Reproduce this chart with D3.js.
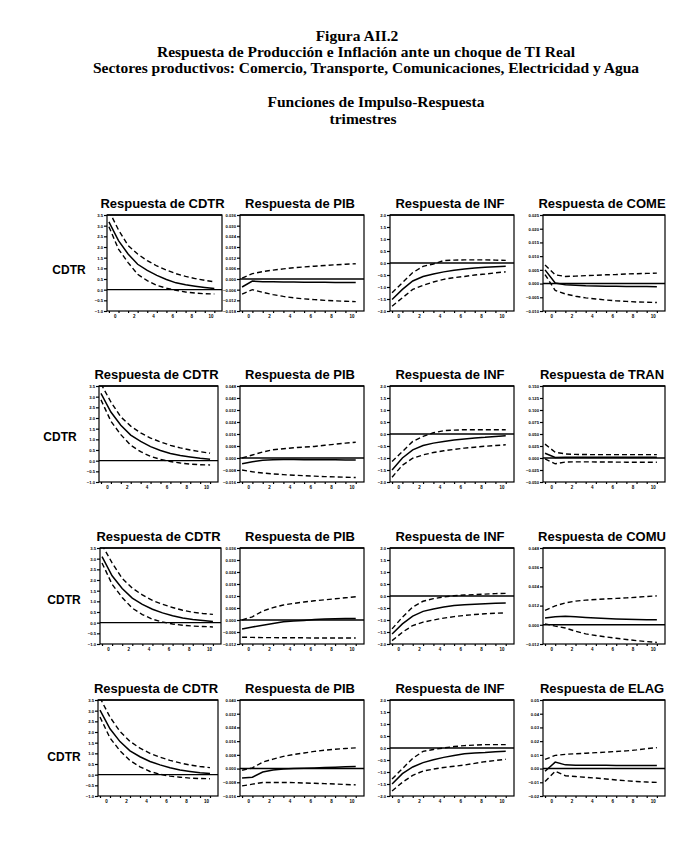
<!DOCTYPE html>
<html><head><meta charset="utf-8">
<script src="https://cdn.jsdelivr.net/npm/d3@7"></script>
<style>body{margin:0;background:#fff}svg{display:block}</style>
</head><body>
<script>
// ---------- DATA ----------
const titleLines = ["Figura AII.2","Respuesta de Producción e Inflación ante un choque  de TI Real","Sectores productivos: Comercio, Transporte, Comunicaciones, Electricidad y Agua"];
const subtitleLines = ["Funciones de Impulso-Respuesta","trimestres"];
const rowShock = ["CDTR","CDTR","CDTR","CDTR"];
const responseVars = [["CDTR","PIB","INF","COME"],["CDTR","PIB","INF","TRAN"],["CDTR","PIB","INF","COMU"],["CDTR","PIB","INF","ELAG"]];
const periods = [1,2,3,4,5,6,7,8,9,10,11,12];
const xLabelPos = [1.6,3.6,5.6,7.6,9.6,11.6];
const xLabelText = ["0","2","4","6","8","10"];

// y tick values per variable/row
const ticksCDTR = [-1.0,-0.5,0.0,0.5,1.0,1.5,2.0,2.5,3.0,3.5];
const ticksINF = [-2.0,-1.5,-1.0,-0.5,0.0,0.5,1.0,1.5,2.0];
const ticksPIB1 = [-0.018,-0.012,-0.006,0.000,0.006,0.012,0.018,0.024,0.030,0.036];
const ticksPIB2 = [-0.016,-0.008,0.000,0.008,0.016,0.024,0.032,0.040,0.048];
const ticksPIB3 = [-0.012,-0.006,0.000,0.006,0.012,0.018,0.024,0.030,0.036];
const ticksPIB4 = [-0.016,-0.008,0.000,0.008,0.016,0.024,0.032,0.040];
const ticksCOME = [-0.010,-0.005,0.000,0.005,0.010,0.015,0.020,0.025];
const ticksTRAN = [-0.050,-0.025,0.000,0.025,0.050,0.075,0.100,0.125,0.150];
const ticksCOMU = [-0.012,0.000,0.012,0.024,0.036,0.048];
const ticksELAG = [-0.02,-0.01,0.00,0.01,0.02,0.03,0.04,0.05];

// Row 1
const r1CDTR = [3.18,2.30,1.67,1.19,0.90,0.67,0.48,0.32,0.23,0.16,0.10,0.05];
const r1CDTRup = [3.70,2.80,2.07,1.67,1.36,1.11,0.92,0.75,0.62,0.52,0.44,0.37];
const r1CDTRlo = [2.95,1.90,1.27,0.72,0.42,0.20,0.07,-0.03,-0.11,-0.16,-0.19,-0.20];
const r1PIB = [-0.0045,-0.0012,-0.0015,-0.0016,-0.0017,-0.0017,-0.0018,-0.0018,-0.0018,-0.0019,-0.0019,-0.0019];
const r1PIBup = [0.0005,0.0030,0.0042,0.0050,0.0057,0.0063,0.0068,0.0072,0.0076,0.0080,0.0083,0.0086];
const r1PIBlo = [-0.0085,-0.0060,-0.0075,-0.0088,-0.0098,-0.0106,-0.0112,-0.0116,-0.0120,-0.0123,-0.0125,-0.0127];
const r1INF = [-1.52,-1.10,-0.75,-0.56,-0.46,-0.37,-0.30,-0.25,-0.21,-0.18,-0.16,-0.14];
const r1INFup = [-1.24,-0.82,-0.40,-0.14,-0.04,0.10,0.12,0.13,0.13,0.13,0.12,0.11];
const r1INFlo = [-1.80,-1.45,-1.10,-0.93,-0.79,-0.68,-0.61,-0.56,-0.50,-0.46,-0.41,-0.37];
const r1COME = [0.0050,0.0002,-0.0004,-0.0006,-0.0008,-0.0009,-0.0010,-0.0010,-0.0011,-0.0011,-0.0011,-0.0012];
const r1COMEup = [0.0068,0.0032,0.0026,0.0027,0.0029,0.0030,0.0032,0.0033,0.0035,0.0036,0.0037,0.0038];
const r1COMElo = [0.0033,-0.0025,-0.0038,-0.0046,-0.0052,-0.0056,-0.0060,-0.0063,-0.0065,-0.0067,-0.0068,-0.0069];

// Row 2
const r2CDTR = [3.15,2.28,1.66,1.20,0.90,0.66,0.48,0.34,0.24,0.17,0.11,0.07];
const r2CDTRup = [3.60,2.75,2.05,1.62,1.30,1.06,0.88,0.72,0.60,0.50,0.42,0.35];
const r2CDTRlo = [2.85,1.85,1.22,0.72,0.42,0.20,0.06,-0.04,-0.11,-0.16,-0.19,-0.20];
const r2PIB = [-0.0038,-0.0025,-0.0015,-0.0012,-0.0010,-0.0010,-0.0011,-0.0011,-0.0012,-0.0012,-0.0013,-0.0013];
const r2PIBup = [0.0000,0.0020,0.0040,0.0055,0.0062,0.0068,0.0073,0.0077,0.0085,0.0092,0.0099,0.0105];
const r2PIBlo = [-0.0080,-0.0092,-0.0100,-0.0106,-0.0111,-0.0115,-0.0118,-0.0121,-0.0124,-0.0126,-0.0128,-0.0130];
const r2INF = [-1.50,-1.00,-0.66,-0.48,-0.38,-0.31,-0.25,-0.21,-0.17,-0.14,-0.10,-0.07];
const r2INFup = [-1.15,-0.73,-0.31,-0.10,0.05,0.14,0.16,0.18,0.18,0.18,0.18,0.18];
const r2INFlo = [-1.80,-1.30,-1.01,-0.87,-0.77,-0.70,-0.64,-0.59,-0.55,-0.51,-0.48,-0.45];
const r2TRAN = [0.0100,0.0010,0.0015,0.0018,0.0018,0.0018,0.0018,0.0018,0.0017,0.0017,0.0017,0.0017];
const r2TRANup = [0.0290,0.0120,0.0085,0.0075,0.0072,0.0070,0.0070,0.0070,0.0070,0.0070,0.0070,0.0070];
const r2TRANlo = [-0.0020,-0.0120,-0.0085,-0.0080,-0.0080,-0.0082,-0.0084,-0.0085,-0.0087,-0.0088,-0.0089,-0.0090];

// Row 3
const r3CDTR = [3.10,2.20,1.60,1.15,0.86,0.63,0.46,0.32,0.22,0.15,0.10,0.06];
const r3CDTRup = [3.65,2.80,2.08,1.62,1.30,1.04,0.86,0.71,0.58,0.49,0.43,0.39];
const r3CDTRlo = [2.80,1.80,1.18,0.68,0.38,0.16,0.03,-0.06,-0.12,-0.16,-0.18,-0.20];
const r3PIB = [-0.0045,-0.0035,-0.0026,-0.0018,-0.0009,-0.0005,-0.0002,0.0002,0.0005,0.0006,0.0007,0.0008];
const r3PIBup = [0.0000,0.0016,0.0045,0.0062,0.0075,0.0083,0.0090,0.0096,0.0101,0.0106,0.0111,0.0116];
const r3PIBlo = [-0.0086,-0.0087,-0.0088,-0.0088,-0.0089,-0.0089,-0.0089,-0.0090,-0.0090,-0.0090,-0.0090,-0.0090];
const r3INF = [-1.58,-1.16,-0.84,-0.64,-0.54,-0.46,-0.40,-0.36,-0.34,-0.32,-0.30,-0.29];
const r3INFup = [-1.37,-0.88,-0.46,-0.22,-0.11,-0.04,0.01,0.04,0.06,0.08,0.10,0.11];
const r3INFlo = [-1.86,-1.51,-1.23,-1.09,-1.00,-0.92,-0.86,-0.81,-0.77,-0.74,-0.72,-0.70];
const r3COMU = [0.0042,0.0050,0.0053,0.0050,0.0046,0.0042,0.0039,0.0036,0.0034,0.0033,0.0032,0.0032];
const r3COMUup = [0.0090,0.0118,0.0137,0.0148,0.0154,0.0158,0.0162,0.0165,0.0168,0.0172,0.0177,0.0181];
const r3COMUlo = [0.0006,-0.0008,-0.0020,-0.0040,-0.0057,-0.0067,-0.0076,-0.0084,-0.0092,-0.0099,-0.0105,-0.0110];

// Row 4
const r4CDTR = [3.03,2.15,1.55,1.12,0.84,0.62,0.46,0.32,0.22,0.15,0.09,0.05];
const r4CDTRup = [3.60,2.70,2.02,1.56,1.24,1.00,0.82,0.67,0.55,0.45,0.38,0.33];
const r4CDTRlo = [2.70,1.72,1.12,0.66,0.37,0.15,0.02,-0.07,-0.12,-0.16,-0.18,-0.19];
const r4PIB = [-0.0055,-0.0050,-0.0020,-0.0008,-0.0003,0.0000,0.0002,0.0004,0.0006,0.0008,0.0010,0.0012];
const r4PIBup = [-0.0010,0.0004,0.0038,0.0055,0.0071,0.0082,0.0091,0.0100,0.0107,0.0113,0.0117,0.0121];
const r4PIBlo = [-0.0101,-0.0091,-0.0081,-0.0081,-0.0081,-0.0082,-0.0084,-0.0086,-0.0088,-0.0090,-0.0093,-0.0095];
const r4INF = [-1.50,-1.07,-0.79,-0.61,-0.49,-0.39,-0.31,-0.24,-0.21,-0.19,-0.16,-0.14];
const r4INFup = [-1.29,-0.86,-0.43,-0.14,-0.06,0.00,0.06,0.10,0.12,0.14,0.14,0.14];
const r4INFlo = [-1.79,-1.43,-1.14,-0.96,-0.88,-0.81,-0.76,-0.71,-0.64,-0.57,-0.52,-0.47];
const r4ELAG = [-0.0020,0.0047,0.0027,0.0025,0.0025,0.0024,0.0024,0.0023,0.0023,0.0022,0.0022,0.0022];
const r4ELAGup = [0.0067,0.0096,0.0104,0.0108,0.0112,0.0116,0.0120,0.0125,0.0129,0.0136,0.0145,0.0153];
const r4ELAGlo = [-0.0094,-0.0020,-0.0052,-0.0058,-0.0064,-0.0069,-0.0076,-0.0083,-0.0089,-0.0094,-0.0098,-0.0101];

const panels = [
  [[r1CDTR,r1CDTRup,r1CDTRlo,ticksCDTR,1],[r1PIB,r1PIBup,r1PIBlo,ticksPIB1,3],[r1INF,r1INFup,r1INFlo,ticksINF,1],[r1COME,r1COMEup,r1COMElo,ticksCOME,3]],
  [[r2CDTR,r2CDTRup,r2CDTRlo,ticksCDTR,1],[r2PIB,r2PIBup,r2PIBlo,ticksPIB2,3],[r2INF,r2INFup,r2INFlo,ticksINF,1],[r2TRAN,r2TRANup,r2TRANlo,ticksTRAN,3]],
  [[r3CDTR,r3CDTRup,r3CDTRlo,ticksCDTR,1],[r3PIB,r3PIBup,r3PIBlo,ticksPIB3,3],[r3INF,r3INFup,r3INFlo,ticksINF,1],[r3COMU,r3COMUup,r3COMUlo,ticksCOMU,3]],
  [[r4CDTR,r4CDTRup,r4CDTRlo,ticksCDTR,1],[r4PIB,r4PIBup,r4PIBlo,ticksPIB4,3],[r4INF,r4INFup,r4INFlo,ticksINF,1],[r4ELAG,r4ELAGup,r4ELAGlo,ticksELAG,2]]
];

// ---------- LAYOUT ----------
const W = 699, H = 845;
const col0X = [107, 99, 100, 98];
const col0W = [115, 119, 121, 120];
const colX = [null, 240, 390, 543];
const colW = [null, 124, 124, 122];
const rowY = [215, 386, 548, 700];
const ph = 96;
const rowLabel = [[69, 274], [60, 441], [64, 604], [64, 761]];

const svg = d3.select("body").append("svg").attr("width", W).attr("height", H);
svg.append("rect").attr("width", W).attr("height", H).attr("fill", "#fff");

const serif = "'Liberation Serif','Times New Roman',serif";
const sans = "'Liberation Sans',Arial,sans-serif";

const tY = [41, 57, 73];
const tX = [357, 366, 366];
titleLines.forEach((t, i) => {
  svg.append("text").attr("x", tX[i]).attr("y", tY[i]).attr("text-anchor", "middle")
    .attr("font-family", serif).attr("font-weight", "bold").attr("font-size", 15.5).text(t);
});
const sY = [107, 124];
const sX = [376, 363];
subtitleLines.forEach((t, i) => {
  svg.append("text").attr("x", sX[i]).attr("y", sY[i]).attr("text-anchor", "middle")
    .attr("font-family", serif).attr("font-weight", "bold").attr("font-size", 15.5).text(t);
});

panels.forEach((row, ri) => {
  svg.append("text").attr("x", rowLabel[ri][0]).attr("y", rowLabel[ri][1]).attr("text-anchor", "middle")
    .attr("font-family", sans).attr("font-weight", "bold").attr("font-size", 12).text(rowShock[ri]);
  row.forEach((p, ci) => {
    const [mid, up, lo, ticks, dec] = p;
    const px = ci === 0 ? col0X[ri] : colX[ci];
    const pw = ci === 0 ? col0W[ri] : colW[ci];
    const x = d3.scaleLinear().domain([0.8, 12.8]).range([0, pw]);
    const g = svg.append("g").attr("transform", `translate(${px},${rowY[ri]})`);
    const y = d3.scaleLinear().domain([ticks[0], ticks[ticks.length - 1]]).range([ph, 0]);
    // title
    g.append("text").attr("x", pw / 2 - 2).attr("y", -7).attr("text-anchor", "middle")
      .attr("font-family", sans).attr("font-weight", "bold").attr("font-size", 13)
      .text("Respuesta de  " + responseVars[ri][ci]);
    const clipId = `c${ri}${ci}`;
    g.append("clipPath").attr("id", clipId).append("rect").attr("width", pw).attr("height", ph);
    // y axis
    const yAx = d3.axisLeft(y).tickValues(ticks).tickSize(3).tickFormat(d3.format(`.${dec}f`));
    const ya = g.append("g").call(yAx);
    ya.select(".domain").remove();
    ya.selectAll("text").attr("font-size", 4.2).attr("font-family", sans).attr("font-weight", "bold").attr("x", -4);
    ya.selectAll("line").attr("stroke", "#000").attr("stroke-width", 1.2);
    // x axis minor ticks
    const xa = g.append("g").attr("transform", `translate(0,${ph})`)
      .call(d3.axisBottom(x).tickValues(periods).tickSize(2).tickFormat(() => ""));
    xa.select(".domain").remove();
    xa.selectAll("line").attr("stroke-width", 1.2);
    // x labels
    const xl = g.append("g").attr("transform", `translate(0,${ph})`)
      .call(d3.axisBottom(x).tickValues(xLabelPos).tickSize(0).tickFormat((d, i) => xLabelText[i]));
    xl.select(".domain").remove();
    xl.selectAll("text").attr("font-size", 4.5).attr("font-family", sans).attr("font-weight", "bold").attr("dy", "0.9em");
    // frame
    g.append("rect").attr("width", pw).attr("height", ph).attr("fill", "none").attr("stroke", "#000").attr("stroke-width", 1.2);
    g.append("line").attr("x1", 0).attr("x2", pw).attr("y1", 0).attr("y2", 0).attr("stroke", "#000").attr("stroke-width", 1.6);
    // zero line
    g.append("line").attr("x1", 0).attr("x2", pw).attr("y1", y(0)).attr("y2", y(0)).attr("stroke", "#000").attr("stroke-width", 1.4);
    const line = d3.line().x((d, i) => x(periods[i])).y(d => y(d));
    const lg = g.append("g").attr("clip-path", `url(#${clipId})`);
    lg.append("path").datum(up).attr("d", line).attr("fill", "none").attr("stroke", "#000").attr("stroke-width", 1.4).attr("stroke-dasharray", "5,3");
    lg.append("path").datum(lo).attr("d", line).attr("fill", "none").attr("stroke", "#000").attr("stroke-width", 1.4).attr("stroke-dasharray", "5,3");
    lg.append("path").datum(mid).attr("d", line).attr("fill", "none").attr("stroke", "#000").attr("stroke-width", 1.5);
  });
});
</script>
</body></html>
